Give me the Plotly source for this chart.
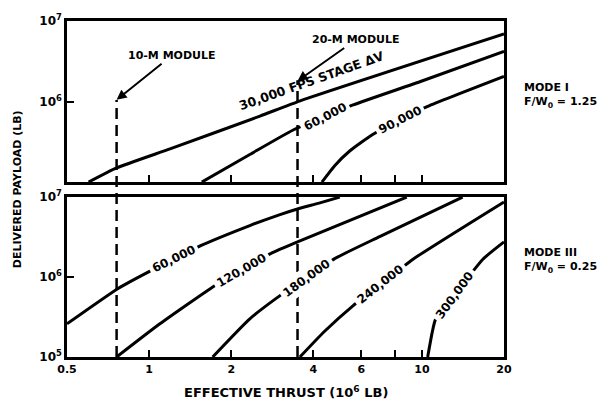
import numpy as np
import plotly.graph_objects as go

# ---- data (thrust in 10^6 lb, payload in lb) ----
# Mode I (top panel), F/W0 = 1.25
m1_30k_thrust = [0.60, 0.76, 1.2, 2.55, 3.58, 20]
m1_30k_payload = [1.0e5, 1.5e5, 2.6e5, 6.6e5, 1.02e6, 6.9e6]
m1_60k_thrust = [1.56, 2.34, 3.36, 4.4, 5.6, 10, 20]
m1_60k_payload = [1.0e5, 2.2e5, 4.4e5, 6.5e5, 9.1e5, 1.8e6, 4.2e6]
m1_90k_thrust = [4.3, 4.79, 5.45, 6.6, 8.3, 10.5, 20]
m1_90k_payload = [1.0e5, 1.6e5, 2.45e5, 3.9e5, 5.9e5, 8.7e5, 2.05e6]

# Mode III (bottom panel), F/W0 = 0.25
m3_60k_thrust = [0.5, 0.77, 1.0, 1.23, 1.56, 2.34, 3.0, 3.5, 4.2, 5.0]
m3_60k_payload = [2.6e5, 7.2e5, 1.17e6, 1.66e6, 2.5e6, 4.4e6, 6.0e6, 7.1e6, 8.4e6, 1.0e7]
m3_120k_thrust = [0.76, 1.095, 1.74, 2.19, 2.82, 3.5, 8.8]
m3_120k_payload = [1.0e5, 2.6e5, 7.8e5, 1.23e6, 2.0e6, 2.75e6, 1.0e7]
m3_180k_thrust = [1.71, 2.34, 3.09, 3.78, 4.79, 7.0, 14.1]
m3_180k_payload = [1.0e5, 3.0e5, 6.2e5, 9.8e5, 1.7e6, 3.2e6, 1.0e7]
m3_240k_thrust = [3.57, 4.4, 5.6, 7.07, 9.25, 20]
m3_240k_payload = [1.0e5, 2.1e5, 4.4e5, 8.1e5, 1.66e6, 8.7e6]
m3_300k_thrust = [10.5, 10.9, 11.2, 13.2, 16.7, 20]
m3_300k_payload = [1.0e5, 2.0e5, 2.9e5, 6.0e5, 1.66e6, 2.75e6]

module_names = ["10-M MODULE", "20-M MODULE"]
module_thrust = [0.76, 3.5]
module_tip_payload = [1.05e6, 1.8e6]

x_tickvals = [0.5, 1, 2, 4, 6, 8, 10, 20]
x_ticktext = ["0.5", "1", "2", "4", "6", "", "10", "20"]
y_tickvals = [1e5, 1e6, 1e7]

FONT = "DejaVu Sans"
fig = go.Figure()

def curve(tx, py, xa, ya):
    fig.add_trace(go.Scatter(x=tx, y=py, mode="lines", xaxis=xa, yaxis=ya,
                             line=dict(color="black", width=3, shape="spline", smoothing=0.5),
                             showlegend=False, hoverinfo="skip"))

curve(m1_30k_thrust, m1_30k_payload, "x2", "y2")
curve(m1_60k_thrust, m1_60k_payload, "x2", "y2")
curve(m1_90k_thrust, m1_90k_payload, "x2", "y2")
curve(m3_60k_thrust, m3_60k_payload, "x", "y")
curve(m3_120k_thrust, m3_120k_payload, "x", "y")
curve(m3_180k_thrust, m3_180k_payload, "x", "y")
curve(m3_240k_thrust, m3_240k_payload, "x", "y")
curve(m3_300k_thrust, m3_300k_payload, "x", "y")

# curve labels: (text, thrust, payload, angle, axes, masks line)
labels = [
    ("30,000 FPS STAGE ΔV", 3.95, 1.85e6, -19.5, "2", False),
    ("60,000", 4.4, 6.5e5, -27, "2", True),
    ("90,000", 8.3, 5.9e5, -27, "2", True),
    ("60,000", 1.23, 1.66e6, -26, "", True),
    ("120,000", 2.19, 1.23e6, -30, "", True),
    ("180,000", 3.78, 9.8e5, -36, "", True),
    ("240,000", 7.07, 8.1e5, -38, "", True),
    ("300,000", 13.2, 6.0e5, -54, "", True),
]
for txt, tx, py, ang, ax, mask in labels:
    fig.add_annotation(x=np.log10(tx), y=np.log10(py), xref="x" + ax, yref="y" + ax,
                       text=txt, textangle=ang, showarrow=False,
                       xanchor="center", yanchor="middle",
                       bgcolor="white" if mask else "rgba(0,0,0,0)", borderpad=3,
                       font=dict(family=FONT, size=12 if mask else 12.5, color="black", weight="bold"))

# module dashed lines and labels
tops = [0.765, 0.8235]
offsets = [(55, -44), (58, -41)]
for name, tx, tp, top, (axo, ayo) in zip(module_names, module_thrust, module_tip_payload, tops, offsets):
    fig.add_shape(type="line", xref="x", yref="paper", x0=tx, x1=tx, y0=0, y1=top,
                  line=dict(color="black", width=2.5, dash="11px,6px"))
    fig.add_annotation(x=np.log10(tx), y=np.log10(tp), xref="x2", yref="y2",
                       text=name, showarrow=True, arrowhead=2, arrowsize=1, arrowwidth=2,
                       ax=axo, ay=ayo, arrowcolor="black",
                       font=dict(family=FONT, size=11, color="black", weight="bold"))

axis_common = dict(type="log", showline=True, mirror=True, linecolor="black", linewidth=2.5,
                   ticks="inside", ticklen=7, tickwidth=2, tickcolor="black",
                   showgrid=False, zeroline=False,
                   tickfont=dict(family=FONT, size=11, color="black", weight="bold"))
yfont = dict(family=FONT, size=12, color="black", weight="bold")
xr = [np.log10(0.5), np.log10(20)]
fig.update_layout(
    width=604, height=399,
    margin=dict(l=67, r=100, t=17, b=42),
    paper_bgcolor="white", plot_bgcolor="white",
    xaxis=dict(axis_common, range=xr, anchor="y", tickvals=x_tickvals, ticktext=x_ticktext),
    xaxis2=dict(axis_common, range=xr, anchor="y2", tickvals=x_tickvals, showticklabels=False),
    yaxis=dict(axis_common, range=[5, 7], domain=[0, 0.476], anchor="x", tickfont=yfont,
               tickvals=y_tickvals, ticktext=["10<sup>5</sup>", "10<sup>6</sup>", "10<sup>7</sup>"]),
    yaxis2=dict(axis_common, range=[5, 7], domain=[0.5206, 1], anchor="x2", tickfont=yfont,
                tickvals=y_tickvals, ticktext=["", "10<sup>6</sup>", "10<sup>7</sup>"]),
)

fig.add_annotation(x=0.5, y=0, xref="paper", yref="paper", yshift=-35, showarrow=False,
                   text="EFFECTIVE THRUST (10<sup>6</sup> LB)", xanchor="center", yanchor="middle",
                   font=dict(family=FONT, size=13, color="black", weight="bold"))
fig.add_annotation(x=-0.114, y=0.5, xref="paper", yref="paper", showarrow=False, textangle=-90,
                   text="DELIVERED PAYLOAD (LB)", xanchor="center", yanchor="middle",
                   font=dict(family=FONT, size=11, color="black", weight="bold"))
fig.add_annotation(x=1.041, y=0.779, xref="paper", yref="paper", showarrow=False, align="left",
                   text="MODE I<br>F/W<sub>0</sub> = 1.25", xanchor="left", yanchor="middle",
                   font=dict(family=FONT, size=11, color="black", weight="bold"))
fig.add_annotation(x=1.041, y=0.287, xref="paper", yref="paper", showarrow=False, align="left",
                   text="MODE III<br>F/W<sub>0</sub> = 0.25", xanchor="left", yanchor="middle",
                   font=dict(family=FONT, size=11, color="black", weight="bold"))

fig.write_html("out.html", config={"displayModeBar": False},
               post_script="document.body.style.margin='0';")
